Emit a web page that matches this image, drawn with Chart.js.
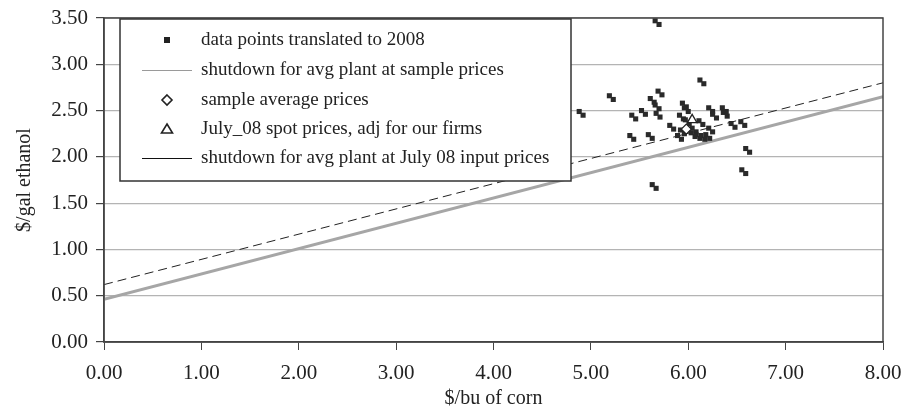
<!DOCTYPE html>
<html>
<head>
<meta charset="utf-8">
<script src="https://cdn.jsdelivr.net/npm/chart.js@4/dist/chart.umd.min.js"></script>
<style>
    html, body { margin: 0; padding: 0; background: #fff; }
    #wrap { width: 905px; height: 409px; position: relative; }
</style>
</head>
<body>
<div id="wrap"><canvas id="shutdownChart" width="905" height="409"></canvas></div>
<script>
// Pontos observados (cada marca aparece em par no original)
const cornPrice = [
    5.66, 5.70, 4.88, 4.92, 5.19, 5.23, 5.69, 5.73, 5.61, 5.65,
    5.66, 5.70, 5.67, 5.71, 5.52, 5.56, 5.42, 5.46, 5.40, 5.44,
    5.59, 5.63, 6.12, 6.16, 5.94, 5.98, 5.96, 6.00, 5.91, 5.95,
    5.81, 5.85, 5.89, 5.93, 5.92, 5.96, 5.97, 6.01, 6.11, 6.15,
    6.04, 6.08, 6.08, 6.12, 6.18, 6.22, 6.21, 6.25, 6.21, 6.25,
    6.25, 6.29, 6.35, 6.39, 6.36, 6.40, 6.44, 6.48, 6.54, 6.58,
    6.59, 6.63, 6.55, 6.59, 5.63, 5.67, 6.13, 6.17, 6.03, 6.07
];
const ethanolPrice = [
    3.47, 3.43, 2.49, 2.45, 2.66, 2.62, 2.71, 2.67, 2.63, 2.59,
    2.56, 2.52, 2.47, 2.43, 2.50, 2.46, 2.45, 2.41, 2.23, 2.19,
    2.24, 2.20, 2.83, 2.79, 2.58, 2.54, 2.53, 2.49, 2.45, 2.41,
    2.34, 2.30, 2.23, 2.19, 2.29, 2.25, 2.40, 2.36, 2.39, 2.35,
    2.31, 2.27, 2.24, 2.20, 2.24, 2.20, 2.31, 2.27, 2.53, 2.49,
    2.46, 2.42, 2.53, 2.49, 2.48, 2.44, 2.36, 2.32, 2.38, 2.34,
    2.09, 2.05, 1.86, 1.82, 1.70, 1.66, 2.23, 2.19, 2.26, 2.22
];

// Linhas de fechamento (extremos em x = 0 e x = 8)
const lineCorn = [0, 8];
const shutdownSample = [0.46, 2.65];
const shutdownJuly = [0.62, 2.80];

const sampleAvg = { x: 5.98, y: 2.30 };
const julySpot = { x: 6.04, y: 2.40 };

const xTicks = [0, 1, 2, 3, 4, 5, 6, 7, 8];
const yTicks = [0, 0.5, 1, 1.5, 2, 2.5, 3, 3.5];

const legendLabels = [
    'data points translated to 2008',
    'shutdown for avg plant at sample prices',
    'sample average prices',
    'July_08 spot prices, adj for our firms',
    'shutdown for avg plant at July 08 input prices'
];

const SERIF = '"Liberation Serif", "Times New Roman", serif';
const INK = '#222';

const toPoints = (xs, ys) => xs.map((x, i) => ({ x, y: ys[i] }));

// Moldura completa da área do gráfico
const framePlugin = {
    id: 'frame',
    afterDatasetsDraw(chart) {
        const { ctx, chartArea: a } = chart;
        ctx.save();
        ctx.strokeStyle = '#444';
        ctx.lineWidth = 1.5;
        ctx.strokeRect(a.left, a.top, a.right - a.left, a.bottom - a.top);
        ctx.restore();
    }
};

// Legenda em caixa dentro da área do gráfico
const boxLegendPlugin = {
    id: 'boxLegend',
    afterDraw(chart) {
        const ctx = chart.ctx;
        const box = { left: 120, top: 19, right: 571, bottom: 181 };
        ctx.save();
        ctx.fillStyle = '#fff';
        ctx.fillRect(box.left, box.top, box.right - box.left, box.bottom - box.top);
        ctx.strokeStyle = '#333';
        ctx.lineWidth = 1.5;
        ctx.strokeRect(box.left, box.top, box.right - box.left, box.bottom - box.top);

        const rows = [40, 70, 100, 129, 158];
        const markX = 167;
        ctx.font = '19px ' + SERIF;
        ctx.textBaseline = 'middle';
        legendLabels.forEach((label, i) => {
            const y = rows[i];
            ctx.fillStyle = INK;
            ctx.strokeStyle = INK;
            ctx.lineWidth = 1.6;
            if (i === 0) {
                ctx.fillRect(markX - 3, y - 3, 6, 6);
            } else if (i === 1 || i === 4) {
                ctx.strokeStyle = i === 1 ? '#9a9a9a' : '#111';
                ctx.lineWidth = 1;
                ctx.beginPath();
                ctx.moveTo(142, y + 0.5);
                ctx.lineTo(192, y + 0.5);
                ctx.stroke();
            } else if (i === 2) {
                ctx.beginPath();
                ctx.moveTo(markX, y - 5);
                ctx.lineTo(markX + 5, y);
                ctx.lineTo(markX, y + 5);
                ctx.lineTo(markX - 5, y);
                ctx.closePath();
                ctx.stroke();
            } else {
                ctx.beginPath();
                ctx.moveTo(markX, y - 5);
                ctx.lineTo(markX + 5.5, y + 4);
                ctx.lineTo(markX - 5.5, y + 4);
                ctx.closePath();
                ctx.stroke();
            }
            ctx.fillStyle = INK;
            ctx.fillText(label, 201, y);
        });
        ctx.restore();
    }
};

const chart = new Chart(document.getElementById('shutdownChart'), {
    type: 'scatter',
    data: {
        datasets: [
            {
                label: legendLabels[0],
                data: toPoints(cornPrice, ethanolPrice),
                pointStyle: 'rect',
                pointRadius: 3.6,
                backgroundColor: '#2a2a2a',
                borderColor: '#2a2a2a',
                borderWidth: 0,
                order: 1
            },
            {
                label: legendLabels[1],
                type: 'line',
                data: toPoints(lineCorn, shutdownSample),
                borderColor: '#a6a6a6',
                borderWidth: 3,
                pointRadius: 0,
                fill: false,
                order: 4
            },
            {
                label: legendLabels[2],
                data: [sampleAvg],
                pointStyle: 'rectRot',
                pointRadius: 5,
                backgroundColor: '#fff',
                borderColor: '#222',
                borderWidth: 1.3,
                order: 0
            },
            {
                label: legendLabels[3],
                data: [julySpot],
                pointStyle: 'triangle',
                pointRadius: 5.5,
                backgroundColor: '#fff',
                borderColor: '#222',
                borderWidth: 1.3,
                order: 0
            },
            {
                label: legendLabels[4],
                type: 'line',
                data: toPoints(lineCorn, shutdownJuly),
                borderColor: '#222',
                borderWidth: 1,
                borderDash: [9, 5],
                pointRadius: 0,
                fill: false,
                order: 3
            }
        ]
    },
    options: {
        responsive: false,
        animation: false,
        devicePixelRatio: 1,
        layout: { padding: { top: 18, right: 22, left: 0, bottom: 0 } },
        plugins: {
            legend: { display: false },
            tooltip: { enabled: false }
        },
        scales: {
            x: {
                type: 'linear',
                min: 0,
                max: 8,
                afterBuildTicks: (scale) => { scale.ticks = xTicks.map(v => ({ value: v })); },
                afterFit: (scale) => {
                    scale.height = 67;
                    scale.paddingLeft = 0;
                    scale.paddingRight = 0;
                },
                grid: { drawOnChartArea: false, tickLength: 8, tickColor: '#444', color: '#444' },
                border: { color: '#444', width: 1.5 },
                ticks: {
                    color: INK,
                    padding: 11,
                    maxRotation: 0,
                    minRotation: 0,
                    font: { family: SERIF, size: 21 },
                    callback: v => v.toFixed(2)
                },
                title: {
                    display: true,
                    text: '$/bu of corn',
                    color: INK,
                    font: { family: SERIF, size: 20 },
                    padding: { top: 0, bottom: -2 }
                }
            },
            y: {
                type: 'linear',
                min: 0,
                max: 3.5,
                afterBuildTicks: (scale) => { scale.ticks = yTicks.map(v => ({ value: v })); },
                afterFit: (scale) => {
                    scale.width = 104;
                    scale.paddingTop = 0;
                    scale.paddingBottom = 0;
                },
                grid: { color: '#b4b4b4', lineWidth: 1.2, tickLength: 8, tickColor: '#444' },
                border: { color: '#444', width: 1.5 },
                ticks: {
                    color: INK,
                    padding: 8,
                    font: { family: SERIF, size: 21 },
                    callback: v => v.toFixed(2)
                },
                title: {
                    display: true,
                    text: '$/gal ethanol',
                    color: INK,
                    font: { family: SERIF, size: 20 },
                    padding: { top: 13, bottom: 0 }
                }
            }
        }
    },
    plugins: [framePlugin, boxLegendPlugin]
});
</script>
</body>
</html>
